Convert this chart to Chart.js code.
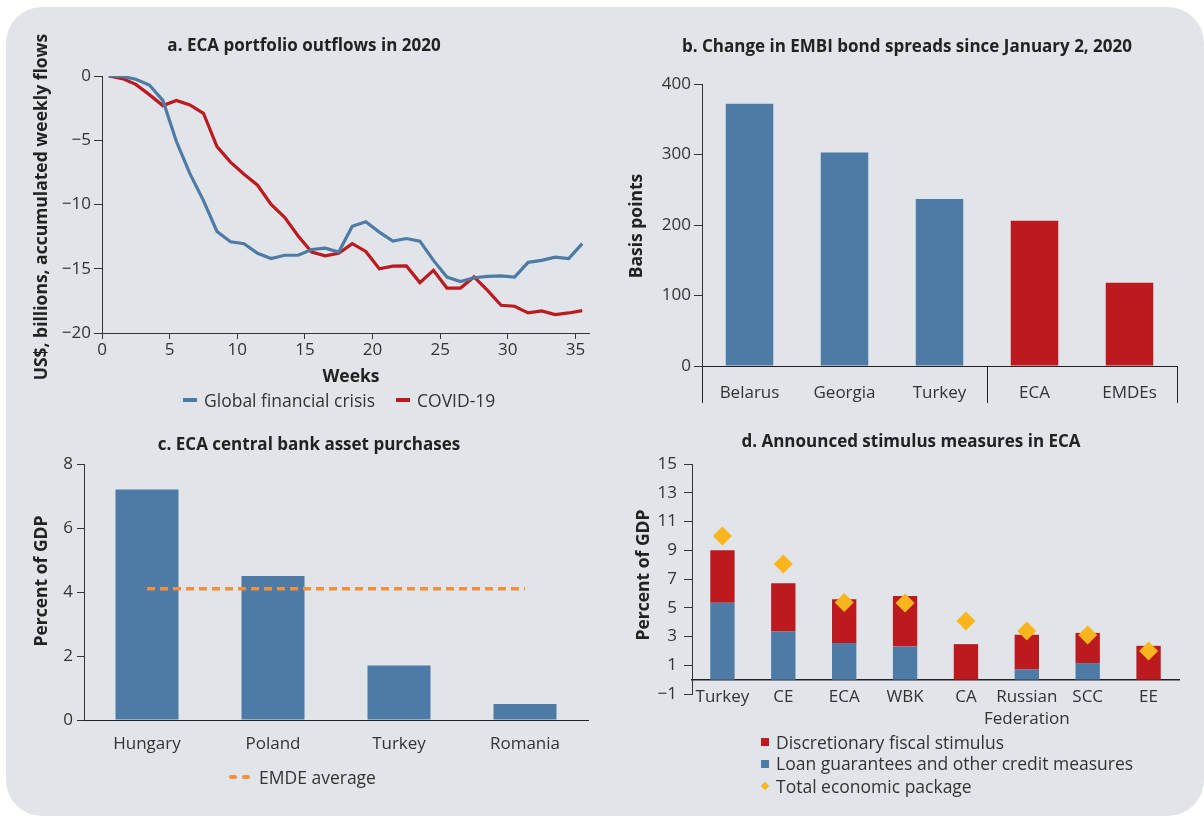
<!DOCTYPE html>
<html><head><meta charset="utf-8">
<script src="https://cdn.jsdelivr.net/npm/chart.js@4.4.0/dist/chart.umd.min.js"></script>
<style>
html,body{margin:0;padding:0;background:#fff;}
#wrap{position:relative;width:1204px;height:816px;overflow:hidden;font-family:"Open Sans","Noto Sans",sans-serif;}
#bg{position:absolute;left:6px;top:7px;width:1198px;height:809px;background:#e1e4e9;border-radius:36px;}
canvas{position:absolute;}
.t{position:absolute;font-weight:bold;font-size:17px;color:#222;white-space:nowrap;transform:translate(-50%,-50%);}
.yt{position:absolute;font-weight:bold;font-size:17.5px;color:#222;white-space:nowrap;transform:translate(-50%,-50%) rotate(-90deg);}
.lg{position:absolute;font-size:17.5px;color:#333;white-space:nowrap;transform:translateY(-50%);}
.sw{position:absolute;}
</style>
</head><body>
<div id="wrap">
<div id="bg"></div>
<canvas id="ca" width="600" height="420" style="left:0;top:0"></canvas>
<canvas id="cb" width="604" height="420" style="left:600px;top:0"></canvas>
<canvas id="cc" width="600" height="396" style="left:0;top:420px"></canvas>
<canvas id="cd" width="604" height="396" style="left:600px;top:420px"></canvas>

<div class="t" style="left:304px;top:44px">a. ECA portfolio outflows in 2020</div>
<div class="t" style="left:907px;top:45px">b. Change in EMBI bond spreads since January 2, 2020</div>
<div class="t" style="left:309px;top:443px">c. ECA central bank asset purchases</div>
<div class="t" style="left:911px;top:440px">d. Announced stimulus measures in ECA</div>

<div class="yt" style="left:40px;top:207px">US$, billions, accumulated weekly flows</div>
<div class="yt" style="left:635px;top:226px">Basis points</div>
<div class="yt" style="left:40px;top:581px">Percent of GDP</div>
<div class="yt" style="left:642px;top:575px">Percent of GDP</div>

<div class="t" style="left:351px;top:375px;font-size:17.5px">Weeks</div>

<div class="sw" style="left:183px;top:398px;width:14px;height:4px;background:#4e7ba6"></div>
<div class="lg" style="left:204px;top:400px">Global financial crisis</div>
<div class="sw" style="left:396px;top:398px;width:14px;height:4px;background:#bd1a20"></div>
<div class="lg" style="left:417px;top:400px">COVID-19</div>

<div class="sw" style="left:229px;top:775px;width:8px;height:4px;background:#f5903a;border-radius:2px"></div>
<div class="sw" style="left:242px;top:775px;width:8px;height:4px;background:#f5903a;border-radius:2px"></div>
<div class="lg" style="left:259px;top:777px">EMDE average</div>

<div class="sw" style="left:761px;top:738px;width:8px;height:8px;background:#bd1a20"></div>
<div class="lg" style="left:776px;top:742px">Discretionary fiscal stimulus</div>
<div class="sw" style="left:761px;top:760px;width:8px;height:8px;background:#4e7ba6"></div>
<div class="lg" style="left:776px;top:763px">Loan guarantees and other credit measures</div>
<div class="sw" style="left:762px;top:783px;width:6px;height:6px;background:#f9b51b;transform:rotate(45deg)"></div>
<div class="lg" style="left:776px;top:786px">Total economic package</div>
</div>

<script>
// ---------- Panel a data ----------
const weeks = [0.5,1.5,2.5,3.5,4.5,5.5,6.5,7.5,8.5,9.5,10.5,11.5,12.5,13.5,14.5,15.5,16.5,17.5,18.5,19.5,20.5,21.5,22.5,23.5,24.5,25.5,26.5,27.5,28.5,29.5,30.5,31.5,32.5,33.5,34.5,35.5];
const gfcFlows = [0,-0.03,-0.25,-0.7,-1.9,-5.1,-7.6,-9.7,-12.1,-12.9,-13.05,-13.8,-14.2,-13.95,-13.95,-13.5,-13.4,-13.7,-11.7,-11.35,-12.15,-12.85,-12.65,-12.85,-14.35,-15.65,-16.0,-15.7,-15.6,-15.55,-15.65,-14.5,-14.35,-14.1,-14.2,-13.05];
const covidFlows = [0,-0.2,-0.65,-1.45,-2.3,-1.9,-2.25,-2.9,-5.5,-6.7,-7.65,-8.5,-10.0,-11.0,-12.45,-13.7,-14.0,-13.8,-13.05,-13.65,-15.0,-14.8,-14.78,-16.08,-15.12,-16.5,-16.5,-15.64,-16.68,-17.84,-17.92,-18.44,-18.28,-18.57,-18.44,-18.26];
const weekTicks = [0,5,10,15,20,25,30,35];

// ---------- Panel b data ----------
const embiCats = ['Belarus','Georgia','Turkey','ECA','EMDEs'];
const embiSpreads = [372,303,237,206,118];

// ---------- Panel c data ----------
const cbCats = ['Hungary','Poland','Turkey','Romania'];
const cbPurchases = [7.2,4.5,1.7,0.5];
const emdeAverage = [4.1,4.1,4.1,4.1];

// ---------- Panel d data ----------
const stimCats = ['Turkey','CE','ECA','WBK','CA',['Russian','Federation'],'SCC','EE'];
const loanGuarantees = [5.35,3.35,2.55,2.3,0,0.7,1.15,0];
const discretionary = [3.65,3.35,3.05,3.52,2.47,2.42,2.1,2.35];
const totalPackage = [10.0,8.05,5.37,5.33,4.08,3.39,3.11,2.0];

const BLUE = '#4e7ba6', RED = '#bd1a20', ORANGE = '#f5903a', YELLOW = '#f9b51b', AX = '#333';
Chart.defaults.font.family = '"Open Sans", "Noto Sans", sans-serif';
Chart.defaults.font.size = 17;
Chart.defaults.color = '#333';
const minus = v => String(v).replace('-', '\u2212');
const noPlugins = {legend:{display:false}, tooltip:{enabled:false}};

// Panel a
new Chart(document.getElementById('ca'), {
  type: 'line',
  data: { datasets: [
    {data: weeks.map((w,i)=>({x:w,y:gfcFlows[i]})), borderColor: BLUE, borderWidth: 3.2, pointRadius: 0, tension: 0},
    {data: weeks.map((w,i)=>({x:w,y:covidFlows[i]})), borderColor: RED, borderWidth: 3.2, pointRadius: 0, tension: 0}
  ]},
  options: {
    responsive: false, animation: false, plugins: noPlugins,
    layout: {padding: {left:0, right:11, top:76, bottom:47}},
    scales: {
      x: {type:'linear', min:0, max:36,
        afterBuildTicks: s => { s.ticks = weekTicks.map(v => ({value: v})); },
        afterFit: s => { s.height = 40; },
        ticks: {padding:1, maxRotation:0, autoSkip:false},
        grid: {drawOnChartArea:false, tickLength:6, color:AX},
        border: {color:AX, width:1}},
      y: {min:-20, max:0,
        afterFit: s => { s.width = 102; },
        ticks: {stepSize:5, padding:3, callback: minus},
        grid: {drawOnChartArea:false, tickLength:8, color:AX},
        border: {color:AX, width:1}}
    }
  }
});

// Panel b
new Chart(document.getElementById('cb'), {
  type: 'bar',
  data: { labels: embiCats, datasets: [
    {data: embiSpreads, backgroundColor: [BLUE,BLUE,BLUE,RED,RED], barPercentage:0.5, categoryPercentage:1}
  ]},
  options: {
    responsive: false, animation: false, plugins: noPlugins,
    layout: {padding: {left:0, right:27, top:84, bottom:9}},
    scales: {
      x: {afterFit: s => { s.height = 45; },
        ticks: {padding:-20, maxRotation:0, autoSkip:false},
        grid: {drawOnChartArea:false, tickLength:37,
          color: c => (c.index === undefined || c.index === 0 || c.index === 3) ? '#222' : 'rgba(0,0,0,0)'},
        border: {color:'#222', width:1}},
      y: {min:0, max:400,
        afterFit: s => { s.width = 102; },
        ticks: {stepSize:100, padding:3},
        grid: {drawOnChartArea:false, tickLength:8, color:AX},
        border: {color:AX, width:1}}
    }
  }
});

// Panel c
new Chart(document.getElementById('cc'), {
  type: 'bar',
  data: { labels: cbCats, datasets: [
    {type:'line', data: emdeAverage, borderColor: ORANGE, borderWidth: 3.5, borderDash:[8,5], pointRadius:0, order:0},
    {data: cbPurchases, backgroundColor: BLUE, barPercentage:0.5, categoryPercentage:1, order:1}
  ]},
  options: {
    responsive: false, animation: false, plugins: noPlugins,
    layout: {padding: {left:0, right:12, top:44, bottom:56}},
    scales: {
      x: {afterFit: s => { s.height = 40; },
        ticks: {padding:14, maxRotation:0, autoSkip:false},
        grid: {display:true, drawOnChartArea:false, drawTicks:false},
        border: {color:'#222', width:1}},
      y: {min:0, max:8,
        afterFit: s => { s.width = 84; },
        ticks: {stepSize:2, padding:4},
        grid: {drawOnChartArea:false, tickLength:7, color:AX},
        border: {color:AX, width:1}}
    }
  }
});

// Panel d
new Chart(document.getElementById('cd'), {
  type: 'bar',
  data: { labels: stimCats, datasets: [
    {data: loanGuarantees, backgroundColor: BLUE, barPercentage:0.4, categoryPercentage:1, stack:'s', order:1},
    {data: discretionary, backgroundColor: RED, barPercentage:0.4, categoryPercentage:1, stack:'s', order:1},
    {type:'line', data: totalPackage, showLine:false, pointStyle:'rectRot', pointRadius:9.5,
      pointBackgroundColor: YELLOW, pointBorderColor: YELLOW, pointBorderWidth:0, order:0}
  ]},
  options: {
    responsive: false, animation: false, plugins: noPlugins,
    layout: {padding: {left:0, right:25, top:44, bottom:122}},
    scales: {
      x: {stacked:true, position:{y:0},
        ticks: {padding:6, maxRotation:0, autoSkip:false, font:{size:17, lineHeight:1.3}},
        grid: {display:true, drawOnChartArea:false, drawTicks:false},
        border: {color:'#222', width:1.5}},
      y: {stacked:true, min:-1, max:15,
        afterFit: s => { s.width = 92; },
        ticks: {stepSize:2, padding:7, callback: minus},
        grid: {drawOnChartArea:false, tickLength:8, color:AX},
        border: {color:AX, width:1}}
    }
  }
});
</script>
</body></html>
